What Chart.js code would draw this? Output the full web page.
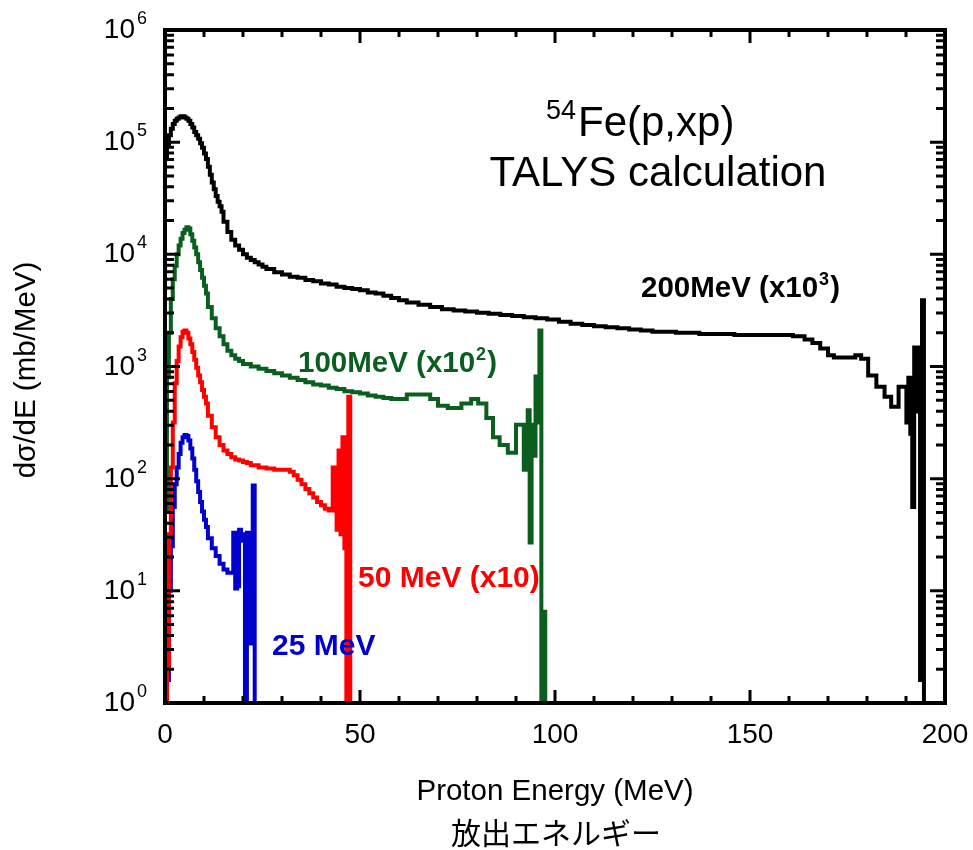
<!DOCTYPE html>
<html>
<head>
<meta charset="utf-8">
<script src="https://cdn.jsdelivr.net/npm/chart.js@4/dist/chart.umd.min.js"></script>
<style>
  html, body { margin: 0; padding: 0; background: #fff; }
  canvas { display: block; }
</style>
</head>
<body>
<canvas id="grafico" width="973" height="850"></canvas>
<script>
// energias (MeV, borda esquerda de cada bin) e valores
const e25 = [0.5, 1, 1.5, 2, 2.5, 3, 3.5, 4, 4.5, 5, 5.5, 6, 6.5, 7, 7.5, 8, 8.5, 9, 9.5, 10, 10.5, 11, 12, 13, 14, 15, 16, 17, 17.5, 18, 18.5, 19, 19.5, 20, 20.5, 21, 21.5, 22, 22.5, 23, 23.5, 24];
const v25 = [0.1, 1.6, 10, 25, 56, 89, 126, 166, 209, 234, 245, 240, 219, 186, 151, 120, 95, 76, 62, 51, 43, 37, 29.5, 24, 20.4, 17.4, 15.5, 14.5, 14.5, 33, 10.5, 11, 35, 32, 28, 0.1, 33, 3.4, 32, 87, 0.1, 0.1];

const e50 = [0.5, 1, 1.5, 2, 2.5, 3, 3.5, 4, 4.5, 5, 5.5, 6, 6.5, 7, 7.5, 8, 8.5, 9, 9.5, 10, 10.5, 11, 12, 13, 14, 15, 16, 17, 18, 19, 20, 21, 22, 24, 26, 28, 30, 32, 33, 34, 35, 36, 37, 38, 39, 40, 41, 42, 43, 44, 44.5, 45, 45.5, 46, 46.5, 47, 47.5, 48, 48.5];
const v50 = [0.1, 2, 32, 126, 316, 708, 1120, 1510, 1820, 2040, 2090, 2000, 1780, 1580, 1350, 1150, 977, 832, 724, 617, 537, 468, 363, 288, 234, 200, 178, 166, 155, 148, 145, 141, 138, 132, 126, 123, 120, 120, 115, 107, 98, 89, 81, 74, 68, 62, 58, 54, 52, 126, 35, 178, 32, 234, 24, 0.1, 537, 0.1, 0.1];

const e100 = [0.5, 1, 1.5, 2, 2.5, 3, 3.5, 4, 4.5, 5, 5.5, 6, 6.5, 7, 7.5, 8, 8.5, 9, 9.5, 10, 10.5, 11, 12, 13, 14, 15, 16, 17, 18, 19, 20, 22, 24, 26, 28, 30, 32, 34, 36, 38, 40, 42, 44, 46, 48, 50, 52, 54, 56, 58, 60, 62, 64, 66, 68, 70, 72.5, 74, 76, 78.5, 80.3, 82.4, 84.1, 85.8, 87.9, 90, 92, 92.5, 93, 93.5, 94, 94.5, 95, 95.5, 96, 96.5, 97, 97.5, 98];
const v100 = [50, 800, 2000, 4000, 6000, 7900, 10000, 12000, 13800, 15500, 16600, 17400, 17000, 15100, 13200, 11500, 10000, 8510, 7240, 6170, 5250, 4470, 3390, 2690, 2190, 1860, 1580, 1380, 1260, 1170, 1120, 1050, 1000, 955, 912, 871, 832, 794, 759, 724, 692, 676, 646, 631, 603, 589, 575, 550, 537, 525, 513, 513, 562, 562, 562, 513, 447, 427, 427, 468, 513, 468, 347, 234, 200, 170, 302, 120, 170, 407, 27, 302, 160, 813, 316, 2090, 0.1, 6.5, 0.1];

const e200 = [0.5, 1, 1.5, 2, 2.5, 3, 3.5, 4, 4.5, 5, 5.5, 6, 6.5, 7, 7.5, 8, 8.5, 9, 9.5, 10, 10.5, 11, 11.5, 12, 12.5, 13, 13.5, 14, 14.5, 15, 16, 17, 18, 19, 20, 21, 22, 23, 24, 25, 26, 28, 30, 32, 34, 36, 38, 40, 42, 44, 46, 48, 50, 52, 54, 56, 58, 60, 62, 65, 68, 71, 74, 77, 80, 83, 86, 89, 92, 95, 98, 101, 104, 107, 110, 113, 116, 119, 122, 125, 128, 131, 134, 137, 140, 143, 146, 149, 152, 155, 158, 161, 164, 166, 168, 170, 171.5, 174, 177, 178.5, 180.3, 182.4, 184.5, 186.2, 188.1, 190.1, 190.6, 191.1, 191.6, 192.1, 192.6, 193.1, 193.6, 194.1, 194.6, 195.1, 195.6];
const v200 = [70800, 95500, 115000, 132000, 145000, 155000, 162000, 166000, 170000, 170000, 166000, 162000, 155000, 145000, 135000, 123000, 115000, 107000, 97700, 89100, 79400, 70800, 60300, 51300, 43700, 38000, 33100, 29500, 26900, 24000, 19500, 15800, 13500, 12000, 11000, 10000, 9330, 8910, 8510, 8130, 7760, 7410, 6920, 6610, 6310, 6170, 5890, 5750, 5500, 5370, 5130, 5010, 4900, 4790, 4570, 4470, 4270, 4070, 3890, 3720, 3550, 3390, 3240, 3160, 3090, 3020, 2950, 2880, 2820, 2750, 2690, 2630, 2510, 2400, 2340, 2290, 2240, 2190, 2140, 2090, 2040, 2040, 2000, 2000, 1950, 1950, 1950, 1910, 1910, 1910, 1910, 1910, 1860, 1740, 1620, 1450, 1260, 1200, 1200, 1260, 1170, 832, 661, 537, 437, 661, 316, 794, 251, 56, 1480, 398, 1480, 1.6, 3890, 0.1, 0.1];

// rótulos dos eixos
const xTickLabels = [0, 50, 100, 150, 200];
const yDecades = [0, 1, 2, 3, 4, 5, 6];

const fonte = '"Liberation Sans", Arial, sans-serif';

function pares(es, vs) {
    return es.map((e, i) => ({ x: e, y: vs[i] }));
}

function serie(es, vs, cor) {
    return {
        data: pares(es, vs),
        borderColor: cor,
        borderWidth: 4,
        stepped: 'after',
        pointRadius: 0,
        fill: false,
        clip: 0
    };
}

// texto com expoente (ex.: 10³)
function textoSup(ctx, x, y, base, sup, resto, tam, negrito) {
    const peso = negrito ? 'bold ' : '';
    ctx.textAlign = 'left';
    ctx.textBaseline = 'alphabetic';
    ctx.font = peso + tam + 'px ' + fonte;
    ctx.fillText(base, x, y);
    let px = x + ctx.measureText(base).width + 1;
    const tamSup = Math.round(tam * 0.62);
    ctx.font = peso + tamSup + 'px ' + fonte;
    ctx.fillText(sup, px, y - tam * 0.42);
    px += ctx.measureText(sup).width + 1;
    if (resto) {
        ctx.font = peso + tam + 'px ' + fonte;
        ctx.fillText(resto, px, y);
    }
}

const moldura = {
    id: 'moldura',
    afterDatasetsDraw(chart) {
        const { ctx, chartArea: a, scales: { x, y } } = chart;
        ctx.save();
        ctx.strokeStyle = '#000';
        ctx.fillStyle = '#000';
        ctx.lineCap = 'butt';

        // marcas do eixo x (a cada 10 MeV)
        ctx.lineWidth = 3;
        ctx.beginPath();
        for (let v = 10; v < 200; v += 10) {
            const px = x.getPixelForValue(v);
            const len = v % 50 === 0 ? 13 : 7;
            ctx.moveTo(px, a.bottom);
            ctx.lineTo(px, a.bottom - len);
            ctx.moveTo(px, a.top);
            ctx.lineTo(px, a.top + len);
        }
        // marcas do eixo y (log)
        for (let d = 0; d < 6; d++) {
            for (let m = 1; m <= 9; m++) {
                if (d === 0 && m === 1) continue;
                const py = y.getPixelForValue(m * Math.pow(10, d));
                const len = m === 1 ? 15 : 9;
                ctx.moveTo(a.left, py);
                ctx.lineTo(a.left + len, py);
                ctx.moveTo(a.right, py);
                ctx.lineTo(a.right - len, py);
            }
        }
        ctx.stroke();

        ctx.lineWidth = 4;
        ctx.strokeRect(a.left, a.top, a.right - a.left, a.bottom - a.top);

        // rótulos x
        ctx.font = '28px ' + fonte;
        ctx.textAlign = 'center';
        ctx.textBaseline = 'alphabetic';
        xTickLabels.forEach(v => {
            ctx.fillText(String(v), x.getPixelForValue(v), 743);
        });

        // rótulos y (10^n)
        yDecades.forEach(n => {
            const py = y.getPixelForValue(Math.pow(10, n));
            ctx.font = '28px ' + fonte;
            ctx.textAlign = 'right';
            ctx.fillText('10', 135, py + 8);
            ctx.font = '18px ' + fonte;
            ctx.textAlign = 'left';
            ctx.fillText(String(n), 137, py - 6);
        });

        // títulos dos eixos
        ctx.textAlign = 'center';
        ctx.font = '29.5px ' + fonte;
        ctx.fillText('Proton Energy (MeV)', 555, 800);
        ctx.font = '30px "Noto Sans CJK JP", sans-serif';
        ctx.textBaseline = 'middle';
        ctx.fillText('放出エネルギー', 556, 833);

        ctx.save();
        ctx.translate(27, 370);
        ctx.rotate(-Math.PI / 2);
        ctx.font = '29.5px ' + fonte;
        ctx.fillText('dσ/dE (mb/MeV)', 0, 0);
        ctx.restore();

        // título dentro do gráfico
        ctx.textBaseline = 'alphabetic';
        ctx.textAlign = 'left';
        ctx.font = '27px ' + fonte;
        ctx.fillText('54', 546, 119);
        ctx.font = '42px ' + fonte;
        ctx.fillText('Fe(p,xp)', 578, 136);
        ctx.textAlign = 'center';
        ctx.fillText('TALYS calculation', 658, 186);

        // rótulos das curvas
        ctx.fillStyle = '#000000';
        textoSup(ctx, 641, 297, '200MeV (x10', '3', ')', 29.5, true);
        ctx.fillStyle = '#0a5f1e';
        textoSup(ctx, 298, 372, '100MeV (x10', '2', ')', 29.5, true);
        ctx.fillStyle = '#ff0000';
        ctx.textAlign = 'left';
        ctx.font = 'bold 30px ' + fonte;
        ctx.fillText('50 MeV (x10)', 358, 587);
        ctx.fillStyle = '#0000cc';
        ctx.fillText('25 MeV', 272, 655);

        ctx.restore();
    }
};

const ctx = document.getElementById('grafico').getContext('2d');

new Chart(ctx, {
    type: 'line',
    data: {
        datasets: [
            serie(e200, v200, '#000000'),
            serie(e100, v100, '#0a5f1e'),
            serie(e50, v50, '#ff0000'),
            serie(e25, v25, '#0000cc')
        ]
    },
    options: {
        responsive: false,
        animation: false,
        layout: { padding: { left: 165, right: 28, top: 30, bottom: 147 } },
        scales: {
            x: { type: 'linear', min: 0, max: 200, display: false },
            y: { type: 'logarithmic', min: 1, max: 1e6, display: false }
        },
        plugins: {
            legend: { display: false },
            tooltip: { enabled: false }
        }
    },
    plugins: [moldura]
});
</script>
</body>
</html>
